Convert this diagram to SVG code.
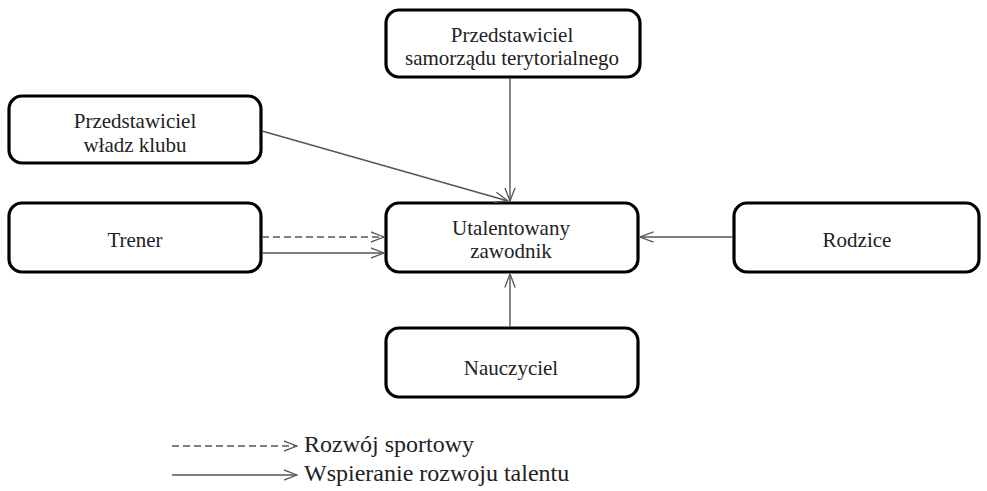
<svg xmlns="http://www.w3.org/2000/svg" width="987" height="491" viewBox="0 0 987 491">
<style>
.box{fill:#fff;stroke:#000;stroke-width:3.2}
.t{font-size:21px;fill:#222;text-anchor:middle}
.lg{font-size:24px;fill:#222}
.c{stroke:#555;stroke-width:1.4;fill:none}
.d{stroke-dasharray:7 4}
</style>
<defs>
<marker id="a" viewBox="0 0 14 12" refX="13.5" refY="6" markerWidth="14" markerHeight="12" markerUnits="userSpaceOnUse" orient="auto">
<path d="M0,0.8 L13.5,6 L0,11.2" fill="none" stroke="#555" stroke-width="1.3"/>
</marker>
</defs>
<g id="node-samorzad" font-family="Liberation Serif, serif">
<rect class="box" x="386" y="10" width="254" height="67" rx="13"/>
<text class="t" x="512" y="42">Przedstawiciel</text>
<text class="t" x="512" y="65">samorządu terytorialnego</text>
</g>
<g id="node-klub" font-family="Liberation Serif, serif">
<rect class="box" x="9" y="96" width="252" height="67" rx="13"/>
<text class="t" x="135" y="128">Przedstawiciel</text>
<text class="t" x="135" y="152">władz klubu</text>
</g>
<g id="node-trener" font-family="Liberation Serif, serif">
<rect class="box" x="9" y="203" width="252" height="69" rx="13"/>
<text class="t" x="135" y="247">Trener</text>
</g>
<g id="node-zawodnik" font-family="Liberation Serif, serif">
<rect class="box" x="386" y="203" width="252" height="69" rx="13"/>
<text class="t" x="511" y="235">Utalentowany</text>
<text class="t" x="511" y="258">zawodnik</text>
</g>
<g id="node-rodzice" font-family="Liberation Serif, serif">
<rect class="box" x="734" y="203" width="245" height="69" rx="13"/>
<text class="t" x="857" y="247">Rodzice</text>
</g>
<g id="node-nauczyciel" font-family="Liberation Serif, serif">
<rect class="box" x="386" y="328" width="252" height="69" rx="13"/>
<text class="t" x="511" y="375">Nauczyciel</text>
</g>
<g id="connectors">
<line class="c" x1="510" y1="78" x2="510" y2="201" marker-end="url(#a)"/>
<line class="c" x1="262" y1="131" x2="508" y2="201" marker-end="url(#a)"/>
<line class="c d" x1="262" y1="237" x2="384" y2="237" marker-end="url(#a)"/>
<line class="c" x1="262" y1="253" x2="384" y2="253" marker-end="url(#a)"/>
<line class="c" x1="733" y1="237" x2="640" y2="237" marker-end="url(#a)"/>
<line class="c" x1="510" y1="327" x2="510" y2="274" marker-end="url(#a)"/>
</g>
<g id="legend" font-family="Liberation Serif, serif">
<line class="c d" x1="172" y1="446" x2="297" y2="446" marker-end="url(#a)"/>
<text class="lg" x="304" y="452">Rozwój sportowy</text>
<line class="c" x1="172" y1="475" x2="297" y2="475" marker-end="url(#a)"/>
<text class="lg" x="304" y="481">Wspieranie rozwoju talentu</text>
</g>
</svg>
